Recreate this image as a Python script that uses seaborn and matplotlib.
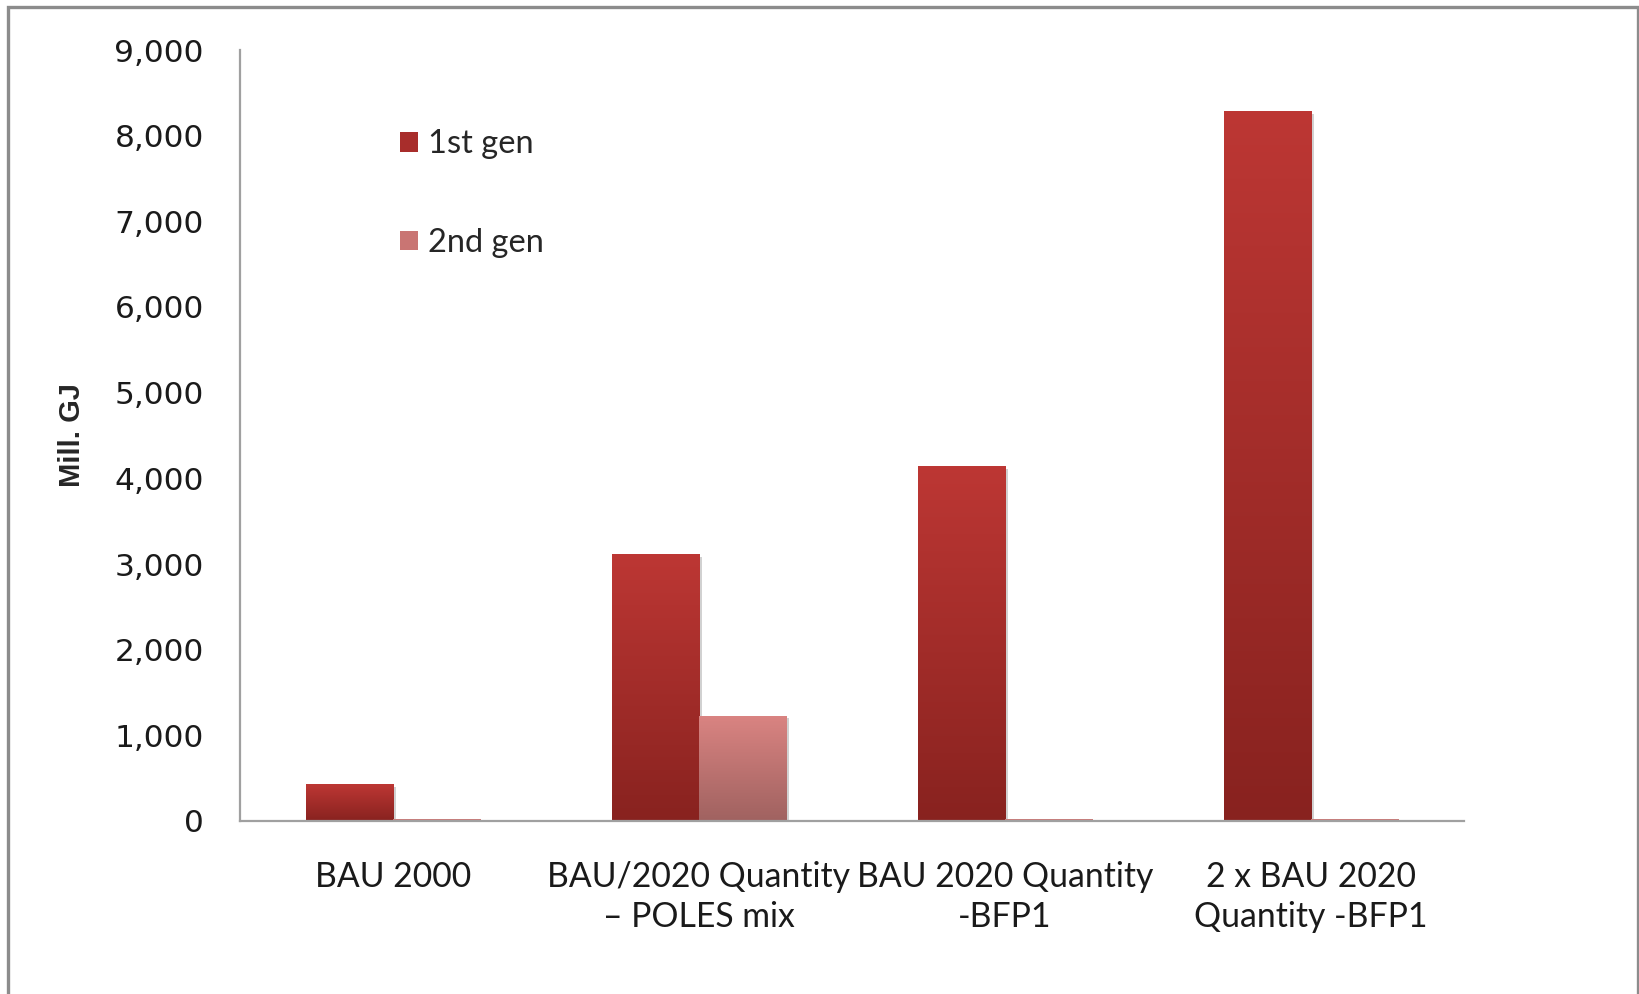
import numpy as np
import pandas as pd
import matplotlib
matplotlib.use("Agg")
import matplotlib.pyplot as plt
import matplotlib.patheffects as pe
from matplotlib.patches import Rectangle, Patch
from matplotlib.colors import LinearSegmentedColormap
import seaborn as sns

# Biofuel demand per scenario (Mill. GJ)
categories = [
    "BAU 2000",
    "BAU/2020 Quantity\n\u2013 POLES mix",
    "BAU 2020 Quantity\n-BFP1",
    "2 x BAU 2020\nQuantity -BFP1",
]
first_gen = [430, 3115, 4140, 8290]
second_gen = [20, 1230, 20, 20]
series_names = ["1st gen", "2nd gen"]
y_ticks = [0, 1000, 2000, 3000, 4000, 5000, 6000, 7000, 8000, 9000]

df = pd.DataFrame({
    "scenario": categories * 2,
    "value": first_gen + second_gen,
    "generation": [series_names[0]] * len(categories) + [series_names[1]] * len(categories),
})

# gradient end points (top, bottom) for each series
grad = {
    "1st gen": ("#BD3734", "#88221F"),
    "2nd gen": ("#DA8482", "#A06260"),
}
solid = {"1st gen": "#A82D2B", "2nd gen": "#C97573"}

sns.set_theme(style="white")
plt.rcParams["font.family"] = ["DejaVu Sans"]

fig = plt.figure(figsize=(16.4, 9.94), dpi=100)
ax = fig.add_axes([240 / 1640, 1 - 821 / 994, 1224 / 1640, 771 / 994])

sns.barplot(data=df, x="scenario", y="value", hue="generation",
            palette=solid, width=0.57, gap=0, ax=ax, legend=False,
            order=categories, hue_order=series_names, saturation=1)

ax.set_ylim(0, 9000)
xlim = ax.get_xlim()

# replace flat fills with vertical gradients clipped to each bar
bars = list(ax.patches)
n = len(categories)
for i, bar in enumerate(bars):
    key = series_names[i // n]
    top, bottom = grad[key]
    cmap = LinearSegmentedColormap.from_list(key, [bottom, top])
    x0, y0 = bar.get_x(), bar.get_y()
    w, h = bar.get_width(), bar.get_height()
    if h <= 0:
        continue
    g = np.linspace(0, 1, 256).reshape(-1, 1)
    im = ax.imshow(g, cmap=cmap, origin="lower", aspect="auto",
                   extent=(x0, x0 + w, y0, y0 + h), zorder=bar.get_zorder() + 0.1)
    im.set_clip_path(bar)
    bar.set_edgecolor("none")
    bar.set_path_effects([pe.SimplePatchShadow(offset=(2, -2), shadow_rgbFace="#000000", alpha=0.18),
                          pe.Normal()])

ax.set_xlim(xlim)
ax.set_ylim(0, 9000)

# axes styling
for s in ["top", "right"]:
    ax.spines[s].set_visible(False)
for s in ["left", "bottom"]:
    ax.spines[s].set_color("#A0A0A0")
    ax.spines[s].set_linewidth(1.6)

ax.set_yticks(y_ticks)
ax.set_yticklabels([f"{v:,}" for v in y_ticks], fontsize=22.5, color="#1a1a1a",
                   family="DejaVu Sans")
ax.tick_params(axis="y", length=0, pad=26)
ax.tick_params(axis="x", length=0, pad=29)
ax.set_xticks(range(n))
ax.set_xticklabels(categories, fontsize=24.3, family="Lato", color="#1a1a1a",
                   linespacing=1.3)
ax.set_xlabel("")
ax.set_ylabel("Mill. GJ", fontsize=21, fontweight="bold", family="Liberation Sans")
ax.yaxis.set_label_coords(-0.126, 0.5)

# legend
handles = [Patch(facecolor=solid[k], edgecolor="none") for k in series_names]
ax.legend(handles, series_names, loc="upper left", bbox_to_anchor=(0.107, 0.935),
          frameon=False, prop={"family": "Lato", "size": 23.5},
          handlelength=0.55, handleheight=0.55, handletextpad=0.3, labelspacing=2.1)

# outer frame
fig.patches.append(Rectangle((8 / 1640, -0.05), (1638 - 8) / 1640, 1.05 - 7 / 994,
                             transform=fig.transFigure, fill=False,
                             edgecolor="#8C8C8C", linewidth=2.4, zorder=10))

fig.savefig("out.png", dpi=100, facecolor="white")
